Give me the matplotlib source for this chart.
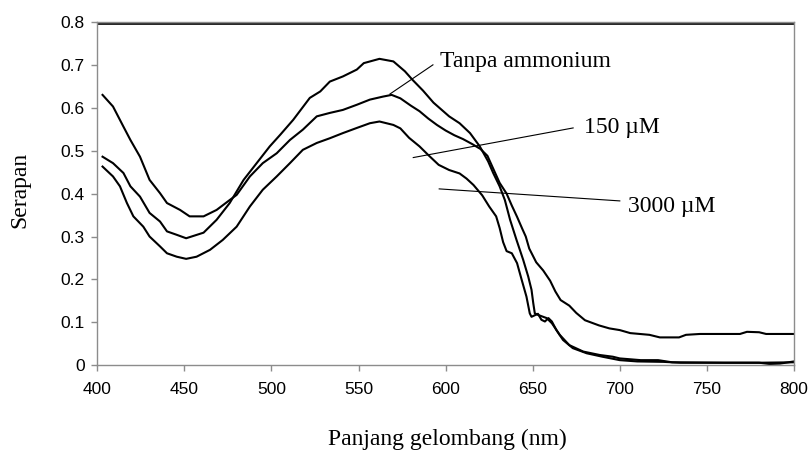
import matplotlib
matplotlib.use("Agg")
import matplotlib.pyplot as plt

# Absorption spectra (wavelength in nm, absorbance)
tanpa_nm = [403, 409, 415, 419, 424.5, 430, 436, 440, 447.5, 453, 461, 468.5, 476, 480,
            487.6, 495, 503, 510.6, 518, 526, 533.5, 541, 549, 556.5, 564, 569, 574, 580,
            585, 590, 595, 600, 605, 610, 615, 620, 624, 628, 631, 635, 638, 641, 644, 646,
            648, 652, 656, 660, 663, 666, 671, 675, 680, 688, 694, 700, 706, 717, 723, 734,
            738, 746, 769, 773, 780, 784, 800]
tanpa_abs = [0.630, 0.603, 0.556, 0.525, 0.486, 0.432, 0.401, 0.378, 0.362, 0.347, 0.347,
             0.362, 0.385, 0.397, 0.440, 0.471, 0.494, 0.525, 0.549, 0.580, 0.588, 0.595,
             0.607, 0.619, 0.626, 0.630, 0.622, 0.605, 0.592, 0.575, 0.560, 0.547, 0.536,
             0.527, 0.516, 0.504, 0.488, 0.452, 0.425, 0.400, 0.372, 0.346, 0.318, 0.300,
             0.272, 0.240, 0.221, 0.197, 0.172, 0.152, 0.139, 0.122, 0.105, 0.093, 0.086,
             0.082, 0.075, 0.071, 0.065, 0.065, 0.071, 0.073, 0.073, 0.078, 0.077, 0.073,
             0.073]

nm_150 = [403, 409, 415, 419, 424.5, 430, 436, 440, 445.6, 451, 461, 468.5, 476, 484,
          491.5, 499, 505, 512.5, 522, 528, 533.5, 541, 549, 553, 562, 570, 576.6, 581, 587,
          593, 602, 608, 614, 619.6, 624.4, 627.3, 631, 634, 637, 640.7, 644.5, 647.4,
          649.3, 650.3, 651.2, 653.3, 658, 661, 665.5, 671, 679, 688.5, 696, 700, 712, 722,
          730, 760, 780, 786, 792, 800]
abs_150 = [0.486, 0.471, 0.448, 0.417, 0.393, 0.355, 0.335, 0.312, 0.304, 0.296, 0.309,
           0.339, 0.378, 0.432, 0.471, 0.510, 0.537, 0.572, 0.623, 0.638, 0.661, 0.673,
           0.689, 0.704, 0.714, 0.708, 0.685, 0.665, 0.640, 0.612, 0.580, 0.564, 0.541,
           0.510, 0.475, 0.448, 0.417, 0.385, 0.339, 0.292, 0.246, 0.207, 0.176, 0.145,
           0.121, 0.117, 0.110, 0.098, 0.071, 0.047, 0.032, 0.024, 0.020, 0.016, 0.012,
           0.012, 0.007, 0.006, 0.006, 0.003, 0.004, 0.009]

nm_3000 = [403, 409, 413, 417, 420.7, 426.4, 430, 436, 440, 445.6, 451, 457, 464.7, 472,
           480, 487.6, 495, 503, 510.6, 518, 526, 533.5, 541, 549, 556.5, 562, 570, 574,
           579, 585, 590, 596, 602, 608, 612, 616, 621, 625, 629, 631, 633, 635, 638, 641,
           643.6, 646.4, 648.3, 649.3, 653, 655, 657, 659, 661, 663.6, 667.4, 673, 681, 690,
           700, 710, 725, 735, 760, 780, 800]
abs_3000 = [0.463, 0.440, 0.417, 0.378, 0.347, 0.323, 0.300, 0.277, 0.261, 0.253, 0.248,
            0.253, 0.269, 0.292, 0.323, 0.370, 0.409, 0.440, 0.471, 0.502, 0.518, 0.529,
            0.541, 0.553, 0.564, 0.568, 0.560, 0.552, 0.530, 0.510, 0.490, 0.467, 0.455,
            0.447, 0.435, 0.420, 0.396, 0.370, 0.347, 0.320, 0.287, 0.266, 0.261, 0.238,
            0.200, 0.160, 0.121, 0.113, 0.120, 0.106, 0.102, 0.110, 0.102, 0.082, 0.059,
            0.040, 0.028, 0.020, 0.012, 0.009, 0.008, 0.006, 0.006, 0.006, 0.007]

x_ticks = [400, 450, 500, 550, 600, 650, 700, 750, 800]
y_ticks = [0, 0.1, 0.2, 0.3, 0.4, 0.5, 0.6, 0.7, 0.8]
y_tick_labels = ['0', '0.1', '0.2', '0.3', '0.4', '0.5', '0.6', '0.7', '0.8']

serif = 'Liberation Serif'
sans = 'Liberation Sans'
grey = '#8c8c8c'

fig = plt.figure(figsize=(8.11, 4.53), dpi=100)
ax = fig.add_axes([0.12, 0.1936, 0.859, 0.758])

for xs, ys in [(tanpa_nm, tanpa_abs), (nm_150, abs_150), (nm_3000, abs_3000)]:
    ax.plot(xs, ys, color='black', lw=1.5, solid_joinstyle='round')

ax.set_xlim(400, 800)
ax.set_ylim(0, 0.8)
ax.set_xticks(x_ticks)
ax.set_xticklabels([str(v) for v in x_ticks], fontfamily=sans, fontsize=12.5)
ax.set_yticks(y_ticks)
ax.set_yticklabels(y_tick_labels, fontfamily=sans, fontsize=12.5)
ax.tick_params(direction='out', length=4, width=1, color=grey)
ax.tick_params(axis='x', pad=8)
ax.tick_params(axis='y', pad=5)

for side in ['left', 'bottom', 'right', 'top']:
    ax.spines[side].set_color(grey)
    ax.spines[side].set_linewidth(1)
# dark rule just under the top frame
ax.axhline(0.795, color='black', lw=1.2)

# labels with leader lines
ax.plot([568, 592.7], [0.632, 0.700], color='black', lw=0.8)
ax.text(596.5, 0.707, 'Tanpa ammonium', fontfamily=serif, fontsize=17, va='center', ha='left')
ax.plot([581.4, 673.2], [0.484, 0.553], color='black', lw=0.8)
ax.text(679.5, 0.553, '150 µM', fontfamily=serif, fontsize=17, va='center', ha='left')
ax.plot([596.3, 700], [0.411, 0.383], color='black', lw=0.8)
ax.text(704.5, 0.370, '3000 µM', fontfamily=serif, fontsize=17, va='center', ha='left')

fig.text(0.025, 0.58, 'Serapan', rotation=90, fontfamily=serif, fontsize=17,
         va='center', ha='center')
fig.text(0.552, 0.03, 'Panjang gelombang (nm)', fontfamily=serif, fontsize=17,
         va='center', ha='center')

fig.savefig('out.png', dpi=100)
